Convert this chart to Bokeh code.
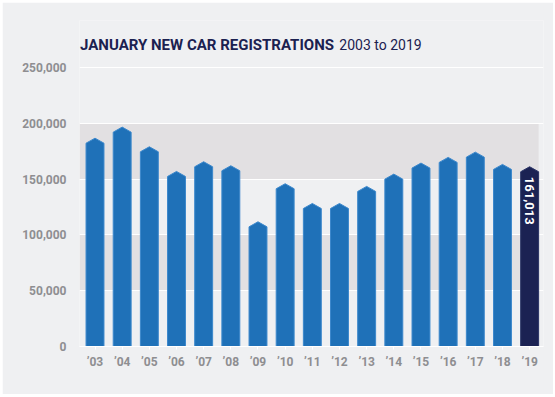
from bokeh.plotting import figure
from bokeh.models import (Range1d, FixedTicker, NumeralTickFormatter, BoxAnnotation,
                          Label, ColumnDataSource)
from bokeh.core.properties import value
from bokeh.embed import file_html
from bokeh.resources import INLINE

# ---- data ----
year_labels = ["’03", "’04", "’05", "’06", "’07", "’08", "’09", "’10", "’11",
               "’12", "’13", "’14", "’15", "’16", "’17", "’18", "’19"]
registrations = [186600, 196500, 178900, 156800, 165500, 161900, 111700, 145800, 128100,
                 128100, 143400, 154400, 164300, 169400, 174100, 163100, 161013]
y_ticks = [0, 50000, 100000, 150000, 200000, 250000]
bands = [(50000, 100000), (150000, 200000)]
highlight_label = "161,013"
title_bold = "JANUARY NEW CAR REGISTRATIONS"
title_rest = "2003 to 2019"

BG = "#eff0f2"
BAND = "#e2e0e2"
BLUE = "#1f71b8"
NAVY = "#1b2253"
GREY = "#8e8e91"
FONT = "Roboto"

n = len(registrations)
bar_w = 0.66
cap = 4500
y_top = 292000

p = figure(width=551, height=392, output_backend="svg", toolbar_location=None,
           x_range=Range1d(-0.571, n - 1 + 0.51), y_range=Range1d(0, y_top),
           min_border_left=77, min_border_right=10, min_border_top=18, min_border_bottom=48)
p.margin = (2, 2, 3, 2)
p.background_fill_color = BG
p.border_fill_color = BG
p.outline_line_color = None

# bands
boxes = []
for lo, hi in bands:
    b = BoxAnnotation(bottom=lo, top=hi, right=n - 1 + bar_w / 2, fill_color=BAND,
                      fill_alpha=1.0, line_color=None, level="underlay")
    boxes.append(b)
p.center = boxes + list(p.center)

# grid
p.xgrid.visible = False
p.ygrid.ticker = FixedTicker(ticks=y_ticks)
p.ygrid.grid_line_color = "white"
p.ygrid.grid_line_width = 1.2

# bars with pointed caps: bottom-left, top-left, apex, top-right, bottom-right
xs, ys, fills, lines = [], [], [], []
for i, v in enumerate(registrations):
    l, r = i - bar_w / 2, i + bar_w / 2
    xs.append([l, l, i, r, r])
    ys.append([0, v - cap, v, v - cap, 0])
    last = (i == n - 1)
    fills.append(NAVY if last else BLUE)
    lines.append("#2a3466" if last else "#3c88cc")
src = ColumnDataSource(dict(xs=xs, ys=ys, fill=fills, line=lines))
p.patches("xs", "ys", source=src, fill_color="fill", line_color="line", line_width=1)

# value label on highlighted bar
p.text(x=[n - 1], y=[registrations[-1] - 9000], text=[highlight_label], angle=-1.5708,
       text_align="left", text_baseline="middle", text_color="white",
       text_font=value(FONT), text_font_style="bold", text_font_size="13px")

# axes
xa = p.xaxis[0]
xa.ticker = FixedTicker(ticks=list(range(n)))
xa.major_label_overrides = {i: lab for i, lab in enumerate(year_labels)}
xa.axis_line_color = "white"
xa.axis_line_width = 1.2
xa.major_tick_line_color = "white"
xa.major_tick_in = 0
xa.major_tick_out = 3
xa.minor_tick_line_color = None
xa.major_label_standoff = 5
xa.major_label_text_color = GREY
xa.major_label_text_font = FONT
xa.major_label_text_font_style = "bold"
xa.major_label_text_font_size = "12px"

ya = p.yaxis[0]
ya.ticker = FixedTicker(ticks=y_ticks)
ya.formatter = NumeralTickFormatter(format="0,0")
ya.axis_line_color = None
ya.major_tick_line_color = None
ya.minor_tick_line_color = None
ya.major_label_standoff = 7
ya.major_label_text_color = GREY
ya.major_label_text_font = FONT
ya.major_label_text_font_style = "bold"
ya.major_label_text_font_size = "12px"

# title (inside the extended frame)
p.add_layout(Label(x=-0.55, y=270000, text=title_bold, text_font=FONT,
                   text_font_style="bold", text_font_size="15px", text_color="#1b2150",
                   text_baseline="alphabetic"))
p.add_layout(Label(x=8.995, y=270000, text=title_rest, text_font=FONT,
                   text_font_style="normal", text_font_size="14px", text_color="#1b2150",
                   text_baseline="alphabetic"))

open("out.html", "w").write(file_html(p, INLINE))
